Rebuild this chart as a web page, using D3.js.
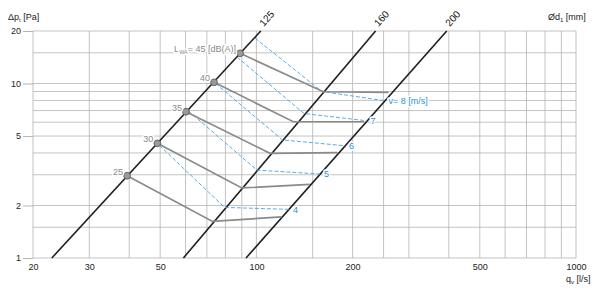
<!DOCTYPE html>
<html>
<head>
<meta charset="utf-8">
<script src="https://cdn.jsdelivr.net/npm/d3@7"></script>
<style>
  body { margin: 0; background: #fff; }
  svg { display: block; font-family: "Liberation Sans", Arial, sans-serif; }
  .grid line { stroke: #b4b4b4; stroke-width: 0.8; }
  .halo { stroke: #fff; stroke-width: 3; paint-order: stroke; stroke-linejoin: round; }
</style>
</head>
<body>
<svg id="chart" width="600" height="297"></svg>
<script>
// Axis ticks and grid
const xTicks = [20, 30, 50, 100, 200, 500, 1000];
const yTicks = [1, 2, 5, 10, 20];
const xGrid = [20, 30, 40, 50, 60, 70, 80, 90, 100, 150, 200, 250, 300, 400, 500, 600, 700, 800, 900, 1000];
const yGrid = [1, 1.5, 2, 3, 4, 5, 6, 7, 8, 9, 10, 15, 20];

// Duct diameters: flow at dp = 1 Pa and at dp = 20 Pa
const diameters = [125, 160, 200];
const diamQLow = [22.9, 59.1, 92.8];
const diamQHigh = [103.2, 236, 394];

// Sound power level lines (125 -> 160 -> 200)
const lwaLevels = [25, 30, 35, 40, 45];
const lwaQ = [
    [39.4, 72.9, 120],
    [49.0, 90.0, 147.1],
    [60.2, 110.3, 179.4],
    [73.7, 130.5, 217.1],
    [88.9, 161.9, 259]
];
const lwaP = [
    [2.96, 1.62, 1.72],
    [4.54, 2.52, 2.64],
    [6.89, 3.98, 4.02],
    [10.16, 6.04, 6.04],
    [14.9, 8.97, 8.9]
];

// Air velocity lines, m/s
const velocities = [4, 5, 6, 7, 8];
const velQ = [
    [49.8, 79.5, 126.5],
    [61.3, 100.4, 158.1],
    [74.5, 120.7, 189.3],
    [86.9, 140.9, 221],
    [99.0, 160.4, 251.8]
];
const velP = [
    [4.41, 1.95, 1.90],
    [6.96, 3.19, 3.03],
    [10.0, 4.75, 4.40],
    [14.2, 6.73, 6.12],
    [18.2, 9.0, 7.97]
];

const svg = d3.select('#chart');
const x = d3.scaleLog().domain([20, 1000]).range([33, 576]);
const y = d3.scaleLog().domain([1, 20]).range([258, 31]);

// grid
const grid = svg.append('g').attr('class', 'grid');
grid.selectAll('.gx').data(xGrid).enter().append('line')
    .attr('x1', d => x(d)).attr('x2', d => x(d))
    .attr('y1', y(1)).attr('y2', y(20));
grid.selectAll('.gy').data(yGrid).enter().append('line')
    .attr('x1', x(20)).attr('x2', x(1000))
    .attr('y1', d => y(d)).attr('y2', d => y(d));

// axes
const xAxis = svg.append('g')
    .attr('transform', `translate(0,${y(1)})`)
    .call(d3.axisBottom(x).tickValues(xTicks).tickSize(0).tickPadding(6).tickFormat(d3.format('d')));
xAxis.select('.domain').remove();

const yAxis = svg.append('g')
    .attr('transform', `translate(${x(20)},0)`)
    .call(d3.axisLeft(y).tickValues(yTicks).tickSize(10).tickPadding(2).tickFormat(d3.format('d')));
yAxis.select('.domain').remove();
yAxis.selectAll('.tick line').attr('stroke', '#a0a0a0').attr('stroke-width', 0.8);

svg.selectAll('.tick text')
    .attr('font-family', '"Liberation Sans", Arial, sans-serif')
    .attr('font-size', 9)
    .attr('fill', '#222');

// axis titles
const dpTitle = svg.append('text').attr('x', 8).attr('y', 20).attr('font-size', 9).attr('fill', '#222');
dpTitle.append('tspan').text('Δp');
dpTitle.append('tspan').attr('font-size', 6).attr('dy', 2).text('t');
dpTitle.append('tspan').attr('dy', -2).text(' [Pa]');

const dTitle = svg.append('text').attr('x', 548).attr('y', 20).attr('font-size', 9).attr('fill', '#222');
dTitle.append('tspan').text('Ød');
dTitle.append('tspan').attr('font-size', 6).attr('dy', 2).text('1');
dTitle.append('tspan').attr('dy', -2).text(' [mm]');

const qTitle = svg.append('text').attr('x', 566).attr('y', 282).attr('font-size', 9).attr('fill', '#222');
qTitle.append('tspan').text('q');
qTitle.append('tspan').attr('font-size', 6).attr('dy', 2).text('v');
qTitle.append('tspan').attr('dy', -2).text(' [l/s]');

const line = d3.line().x(d => x(d[0])).y(d => y(d[1]));

// duct diameter lines
diameters.forEach((d, i) => {
    svg.append('path')
        .attr('d', line([[diamQLow[i], 1], [diamQHigh[i], 20]]))
        .attr('fill', 'none').attr('stroke', '#1e1e1e').attr('stroke-width', 1.6);
    svg.append('text')
        .attr('transform', `translate(${x(diamQHigh[i]) + 3},${y(20) - 4}) rotate(-48)`)
        .attr('font-size', 10).attr('fill', '#111')
        .text(d);
});

// velocity lines (dashed blue)
velocities.forEach((v, i) => {
    const pts = velQ[i].map((q, j) => [q, velP[i][j]]);
    svg.append('path')
        .attr('d', line(pts))
        .attr('fill', 'none').attr('stroke', '#4aa3df').attr('stroke-width', 0.9)
        .attr('stroke-dasharray', '4,2');
    const last = pts[pts.length - 1];
    svg.append('text')
        .attr('class', 'halo')
        .attr('x', x(last[0]) + 4).attr('y', y(last[1]) + 3.5)
        .attr('font-size', 9).attr('fill', '#2d8fd5')
        .text(i === velocities.length - 1 ? `v= ${v} [m/s]` : v);
});

// sound level lines (grey)
lwaLevels.forEach((l, i) => {
    const pts = lwaQ[i].map((q, j) => [q, lwaP[i][j]]);
    svg.append('path')
        .attr('d', line(pts))
        .attr('fill', 'none').attr('stroke', '#8a8a8a').attr('stroke-width', 1.7);
});

// points on the 125 line
svg.selectAll('.lwa-pt').data(lwaLevels).enter().append('circle')
    .attr('cx', (d, i) => x(lwaQ[i][0]))
    .attr('cy', (d, i) => y(lwaP[i][0]))
    .attr('r', 3.4)
    .attr('fill', '#9a9a9a').attr('stroke', '#505050').attr('stroke-width', 0.8);

lwaLevels.forEach((l, i) => {
    const t = svg.append('text')
        .attr('class', 'halo')
        .attr('x', x(lwaQ[i][0]) - 4).attr('y', y(lwaP[i][0]) - 1)
        .attr('text-anchor', 'end')
        .attr('font-size', 9).attr('fill', '#8a8a8a');
    if (i === lwaLevels.length - 1) {
        t.append('tspan').text('L');
        t.append('tspan').attr('font-size', 5.5).attr('dy', 2).text('WA');
        t.append('tspan').attr('dy', -2).text(`= ${l} [dB(A)]`);
    } else {
        t.text(l);
    }
});
</script>
</body>
</html>
